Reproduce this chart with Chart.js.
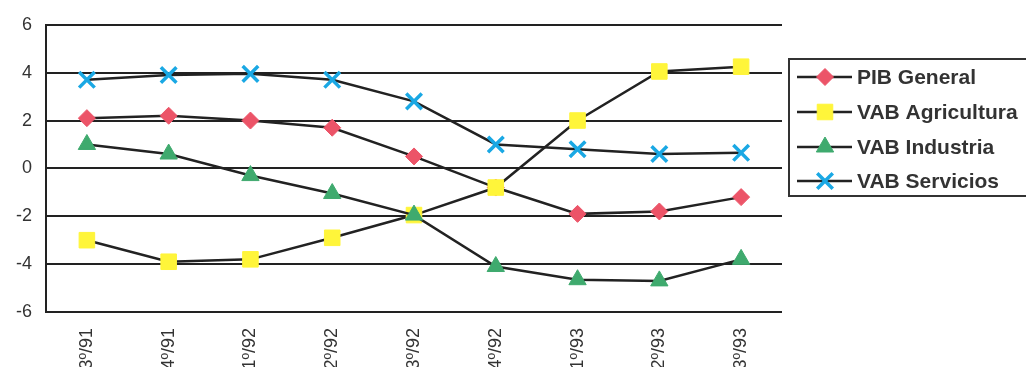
<!DOCTYPE html>
<html lang="es">
<head>
  <meta charset="UTF-8" />
  <title>PIB y VAB</title>
  <script src="https://cdn.jsdelivr.net/npm/chart.js"></script>
  <style>
    html, body { margin: 0; padding: 0; background: #fff; overflow: hidden; }
    #wrap { width: 1026px; height: 367px; overflow: hidden; position: relative; }
  </style>
</head>
<body>
  <div id="wrap">
    <canvas id="chart" width="1026" height="390"></canvas>
  </div>

  <script>
    // quarters
    const labels = ['3º/91', '4º/91', '1º/92', '2º/92', '3º/92', '4º/92', '1º/93', '2º/93', '3º/93'];

    const pibGeneral = [2.1, 2.2, 2.0, 1.7, 0.5, -0.8, -1.9, -1.8, -1.2];
    const vabAgricultura = [-3.0, -3.9, -3.8, -2.9, -1.95, -0.8, 2.0, 4.05, 4.25];
    const vabIndustria = [1.0, 0.6, -0.3, -1.05, -1.95, -4.1, -4.65, -4.7, -3.8];
    const vabServicios = [3.7, 3.9, 3.95, 3.7, 2.8, 1.0, 0.8, 0.6, 0.65];

    const yTicks = [-6, -4, -2, 0, 2, 4, 6];

    const ink = '#222';
    const font = "'Liberation Sans', Arial, sans-serif";

    function series(label, data, color, style, radius, order, extra) {
      return Object.assign({
        label,
        data,
        order,
        borderColor: ink,
        borderWidth: 2.5,
        pointStyle: style,
        pointRadius: radius,
        pointHoverRadius: radius,
        pointBackgroundColor: color,
        pointBorderColor: color,
        pointBorderWidth: 1,
        tension: 0,
        fill: false
      }, extra || {});
    }

    // legend drawn like the old spreadsheet one: line through the marker
    const boxLegend = {
      id: 'boxLegend',
      afterDraw(chart) {
        const ctx = chart.ctx;
        ctx.save();
        ctx.strokeStyle = '#333';
        ctx.lineWidth = 2;
        ctx.strokeRect(789, 59, 260, 137);
        const rows = [77, 112, 147, 181];
        chart.data.datasets.forEach((ds, k) => {
          const y = rows[k];
          ctx.strokeStyle = ink;
          ctx.lineWidth = 2.5;
          ctx.beginPath();
          ctx.moveTo(797, y);
          ctx.lineTo(852, y);
          ctx.stroke();
          ctx.fillStyle = ds.pointBackgroundColor;
          ctx.strokeStyle = ds.pointBorderColor;
          ctx.lineWidth = ds.pointBorderWidth;
          Chart.helpers.drawPoint(ctx, {
            pointStyle: ds.pointStyle,
            radius: ds.pointRadius,
            borderWidth: ds.pointBorderWidth,
            rotation: 0
          }, 825, y);
          ctx.fillStyle = '#333';
          ctx.font = 'bold 21px ' + font;
          ctx.textBaseline = 'middle';
          ctx.textAlign = 'left';
          ctx.fillText(ds.label, 857, y + 1);
        });
        ctx.restore();
      }
    };

    new Chart(document.getElementById('chart'), {
      type: 'line',
      data: {
        labels,
        datasets: [
          series('PIB General', pibGeneral, '#EC5468', 'rectRot', 8.5, 4),
          series('VAB Agricultura', vabAgricultura, '#FFF53A', 'rect', 11, 3),
          series('VAB Industria', vabIndustria, '#3FAA6E', 'triangle', 10, 2),
          series('VAB Servicios', vabServicios, '#1AA8E4', 'crossRot', 11, 1, { pointBorderWidth: 3.5 })
        ]
      },
      options: {
        responsive: false,
        animation: false,
        events: [],
        layout: { padding: { top: 24, right: 244, left: 0, bottom: 0 } },
        plugins: {
          legend: { display: false },
          tooltip: { enabled: false }
        },
        scales: {
          x: {
            offset: true,
            grid: { display: false, drawTicks: false },
            border: { display: false },
            ticks: {
              color: '#333',
              font: { family: font, size: 18 },
              minRotation: 90,
              maxRotation: 90,
              padding: 16,
              autoSkip: false
            },
            afterFit(scale) { scale.height = 390 - 312; }
          },
          y: {
            min: -6,
            max: 6,
            afterBuildTicks(scale) { scale.ticks = yTicks.map(v => ({ value: v })); },
            grid: { color: ink, lineWidth: 2, drawTicks: false },
            border: { display: true, color: ink, width: 2 },
            ticks: {
              color: '#333',
              font: { family: font, size: 18 },
              padding: 14
            },
            afterFit(scale) { scale.width = 46; }
          }
        }
      },
      plugins: [boxLegend]
    });
  </script>
</body>
</html>
